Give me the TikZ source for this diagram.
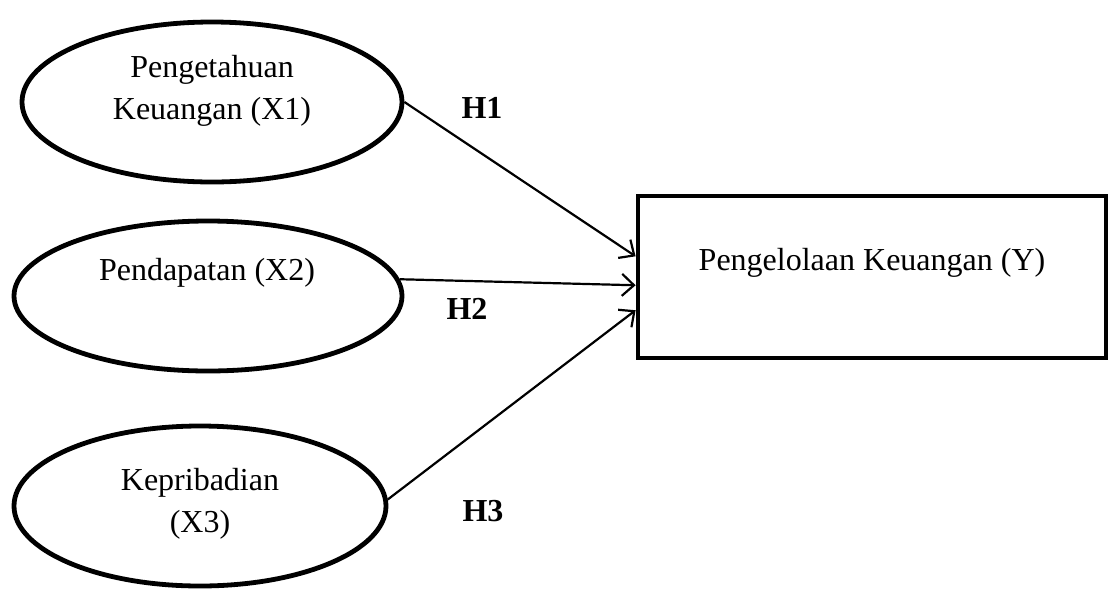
\documentclass[tikz,border=0pt]{standalone}
\usepackage{fontspec}
\setmainfont{Liberation Serif}
\usetikzlibrary{positioning, shapes.geometric, arrows.meta}

\begin{document}
\begin{tikzpicture}[x=0.5pt, y=-0.5pt,
    var/.style={ellipse, draw, line width=2.4pt, inner sep=0pt},
    dep/.style={rectangle, draw, line width=2.4pt, inner sep=0pt, minimum width=234pt, minimum height=81pt},
    txt/.style={align=center, font=\fontsize{16}{21}\selectfont},
    hyp/.style={font=\fontsize{16}{21}\selectfont\bfseries},
    path/.style={line width=1.1pt, -{Straight Barb[length=6pt, width=11pt, line width=1.1pt]}}]
    \useasboundingbox (0,0) rectangle (1109,590);
    % variables
    \node[var, minimum width=190pt, minimum height=80pt] (x1) at (212,102) {};
    \node[var, minimum width=194pt, minimum height=75pt] (x2) at (208,296) {};
    \node[var, minimum width=186pt, minimum height=80pt] (x3) at (200,506) {};
    \node[dep] (y) at (872,277) {};
    \node[txt] (x1t) at (212,91) {Pengetahuan\\Keuangan (X1)};
    \node[txt] (x2t) at (207,273) {Pendapatan (X2)};
    \node[txt] (x3t) at (200,504) {Kepribadian\\(X3)};
    \node[txt] (yt) at (872,263) {Pengelolaan Keuangan (Y)};
    % hypotheses
    \draw[path] (x1.east) -- (y.175);
    \draw[path] (x2.5.6) -- (y.182);
    \draw[path] (x3.2.7) -- (y.188);
    \node[hyp] (h1) at (482,108) {H1};
    \node[hyp] (h2) at (467,309) {H2};
    \node[hyp] (h3) at (483,511) {H3};
\end{tikzpicture}
\end{document}
